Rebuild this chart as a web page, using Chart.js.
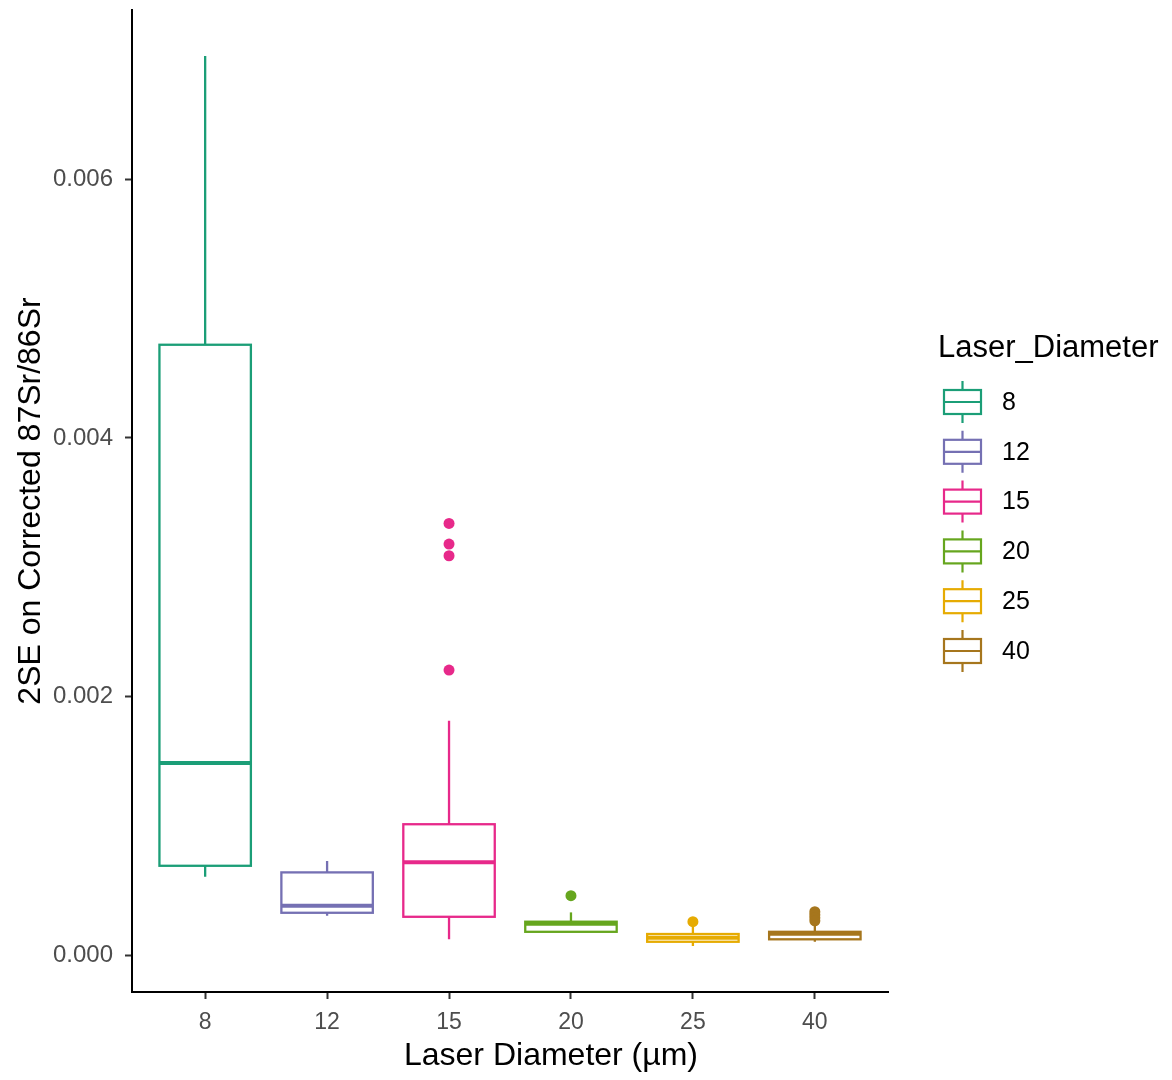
<!DOCTYPE html>
<html>
<head>
<meta charset="utf-8">
<script src="https://cdn.jsdelivr.net/npm/chart.js@4"></script>
<style>
  html, body { margin: 0; padding: 0; background: #fff; }
  #boxChart { display: block; }
</style>
</head>
<body>
<canvas id="boxChart" width="1172" height="1080"></canvas>
<script>
// data
var categories = ['8', '12', '15', '20', '25', '40'];
var boxColors = ['#1B9E77', '#7570B3', '#E7298A', '#66A61E', '#E6AB02', '#A6761D'];
var whiskerLow  = [0.00061, 0.000309, 0.000127, 0.000185, 0.000075, 0.000108];
var q1          = [0.000695, 0.000332, 0.000301, 0.000185, 0.000108, 0.000127];
var median      = [0.001489, 0.000386, 0.000722, 0.000247, 0.000139, 0.00017];
var q3          = [0.00472, 0.000644, 0.001016, 0.000263, 0.000168, 0.000185];
var whiskerHigh = [0.00695, 0.000732, 0.001815, 0.000335, 0.000224, 0.000237];
var outliers = [
    [],
    [],
    [0.00334, 0.00318, 0.00309, 0.002207],
    [0.000464],
    [0.000263],
    [0.00034, 0.000317, 0.000294, 0.00027]
];
var yTicks = [0, 0.002, 0.004, 0.006];

var BOX_WIDTH = 0.75;
Chart.defaults.font.family = "'Liberation Sans', Arial, sans-serif";

var boxPlugin = {
    id: 'boxes',
    beforeDatasetsDraw: function(chart) {
        var ctx = chart.ctx;
        var xs = chart.scales.x, ys = chart.scales.y;
        ctx.save();
        for (var i = 0; i < categories.length; i++) {
            var xc = xs.getPixelForValue(i + 1);
            var xl = xs.getPixelForValue(i + 1 - BOX_WIDTH / 2);
            var xr = xs.getPixelForValue(i + 1 + BOX_WIDTH / 2);
            ctx.strokeStyle = boxColors[i];
            ctx.lineWidth = 2.3;
            // whiskers
            ctx.beginPath();
            ctx.moveTo(xc, ys.getPixelForValue(whiskerHigh[i]));
            ctx.lineTo(xc, ys.getPixelForValue(q3[i]));
            ctx.moveTo(xc, ys.getPixelForValue(q1[i]));
            ctx.lineTo(xc, ys.getPixelForValue(whiskerLow[i]));
            ctx.stroke();
            // box
            var yt = ys.getPixelForValue(q3[i]);
            var yb = ys.getPixelForValue(q1[i]);
            ctx.strokeRect(xl, yt, xr - xl, yb - yt);
            // median
            ctx.lineWidth = 4;
            ctx.beginPath();
            ctx.moveTo(xl, ys.getPixelForValue(median[i]));
            ctx.lineTo(xr, ys.getPixelForValue(median[i]));
            ctx.stroke();
        }
        ctx.restore();
    },
    afterDraw: function(chart) {
        var ctx = chart.ctx;
        ctx.save();
        // x axis title
        ctx.fillStyle = '#000';
        ctx.font = "32px 'Liberation Sans', Arial, sans-serif";
        ctx.textAlign = 'center';
        ctx.textBaseline = 'middle';
        ctx.fillText('Laser Diameter (µm)', 551, 1056);

        // legend
        ctx.textAlign = 'left';
        ctx.font = "31px 'Liberation Sans', Arial, sans-serif";
        ctx.fillText('Laser_Diameter', 938, 348);
        ctx.font = "25px 'Liberation Sans', Arial, sans-serif";
        for (var i = 0; i < categories.length; i++) {
            var cy = 402 + i * 49.8;
            ctx.strokeStyle = boxColors[i];
            ctx.lineWidth = 2.2;
            ctx.beginPath();
            ctx.moveTo(962.5, cy - 21);
            ctx.lineTo(962.5, cy - 12);
            ctx.moveTo(962.5, cy + 12);
            ctx.lineTo(962.5, cy + 21);
            ctx.moveTo(944, cy);
            ctx.lineTo(981, cy);
            ctx.stroke();
            ctx.strokeRect(944, cy - 12, 37, 24);
            ctx.fillStyle = '#000';
            ctx.fillText(categories[i], 1002, cy + 1);
        }
        ctx.restore();
    }
};

var ctx = document.getElementById('boxChart').getContext('2d');
var boxChart = new Chart(ctx, {
    type: 'scatter',
    data: {
        datasets: categories.map(function(c, i) {
            return {
                label: c,
                data: outliers[i].map(function(v) { return { x: i + 1, y: v }; }),
                backgroundColor: boxColors[i],
                borderWidth: 0,
                pointRadius: 5.5
            };
        })
    },
    options: {
        responsive: false,
        animation: false,
        layout: {
            padding: { top: 10, right: 284, left: 0, bottom: 0 }
        },
        scales: {
            x: {
                type: 'linear',
                min: 0.4,
                max: 6.6,
                afterBuildTicks: function(scale) {
                    scale.ticks = categories.map(function(c, i) { return { value: i + 1 }; });
                },
                afterFit: function(scale) {
                    scale.height = 88;
                    scale.paddingLeft = 0;
                    scale.paddingRight = 0;
                },
                ticks: {
                    autoSkip: false,
                    maxRotation: 0,
                    padding: 10,
                    color: '#4d4d4d',
                    font: { size: 23 },
                    callback: function(v) { return categories[Math.round(v) - 1]; }
                },
                grid: {
                    display: true,
                    drawOnChartArea: false,
                    drawTicks: true,
                    tickLength: 7,
                    tickColor: '#333',
                    tickWidth: 2
                },
                border: { color: '#000', width: 2 }
            },
            y: {
                min: -0.00028,
                max: 0.007306,
                afterBuildTicks: function(scale) {
                    scale.ticks = yTicks.map(function(v) { return { value: v }; });
                },
                afterFit: function(scale) {
                    scale.width = 132;
                    scale.paddingTop = 0;
                    scale.paddingBottom = 0;
                },
                ticks: {
                    padding: 12,
                    color: '#4d4d4d',
                    font: { size: 24 },
                    callback: function(v) { return v.toFixed(3); }
                },
                grid: {
                    display: true,
                    drawOnChartArea: false,
                    drawTicks: true,
                    tickLength: 7,
                    tickColor: '#333',
                    tickWidth: 2
                },
                border: { color: '#000', width: 2 },
                title: {
                    display: true,
                    text: '2SE on Corrected 87Sr/86Sr',
                    color: '#000',
                    font: { size: 32 },
                    padding: { top: 12, bottom: 0 }
                }
            }
        },
        plugins: {
            legend: { display: false },
            tooltip: { enabled: false }
        }
    },
    plugins: [boxPlugin]
});
</script>
</body>
</html>
